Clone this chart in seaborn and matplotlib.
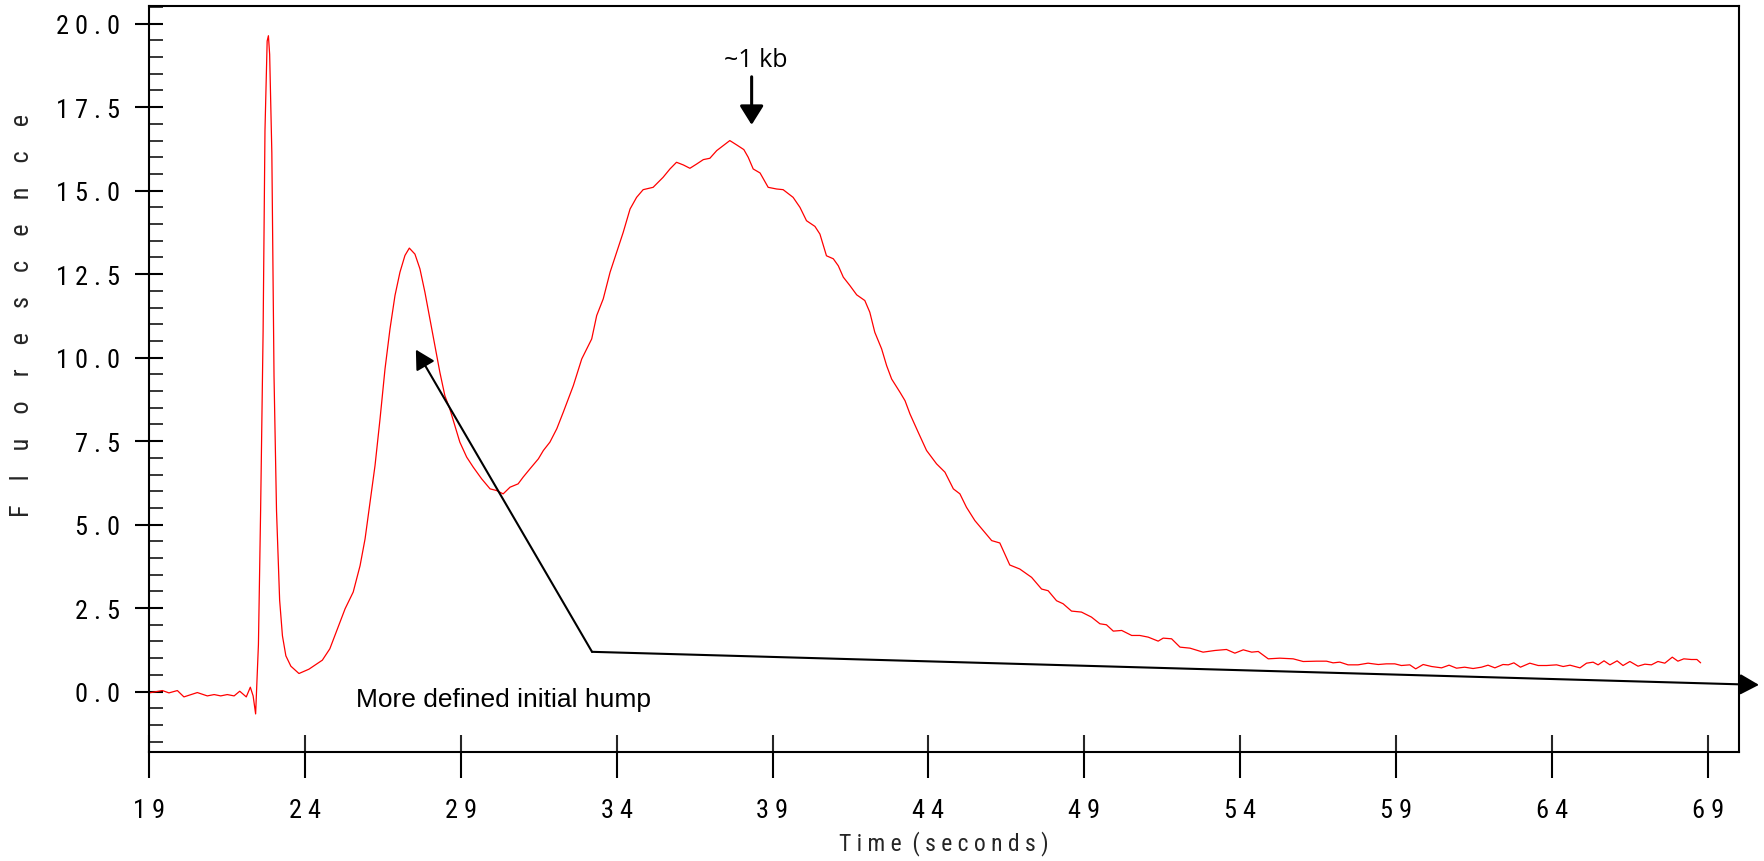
import matplotlib
matplotlib.use("Agg")
import matplotlib.pyplot as plt
import seaborn as sns
import numpy as np
import pandas as pd
from matplotlib import font_manager as fm
from matplotlib.ticker import FixedLocator, MultipleLocator

# ---------------- data ----------------
time_s = [
    19.00, 19.43, 19.64, 19.91, 20.12, 20.55, 20.87, 21.09, 21.30, 21.51,
    21.73, 21.91, 22.12, 22.25, 22.34, 22.42, 22.51, 22.58, 22.66, 22.72,
    22.79, 22.83, 22.87, 22.94, 23.01, 23.09, 23.19, 23.28, 23.39, 23.55,
    23.81, 24.13, 24.56, 24.80, 25.29, 25.55, 25.77, 25.93, 26.09, 26.25,
    26.41, 26.57, 26.73, 26.89, 27.05, 27.21, 27.35, 27.53, 27.69, 27.85,
    28.01, 28.17, 28.33, 28.49, 28.65, 28.81, 28.97, 29.19, 29.40, 29.67,
    29.94, 30.15, 30.36, 30.58, 30.84, 31.00, 31.22, 31.49, 31.65, 31.86,
    32.08, 32.29, 32.61, 32.88, 33.20, 33.36, 33.57, 33.79, 34.00, 34.21,
    34.43, 34.64, 34.85, 35.17, 35.49, 35.71, 35.92, 36.14, 36.35, 36.57,
    36.78, 36.99, 37.21, 37.42, 37.63, 37.85, 38.08, 38.22, 38.38, 38.60,
    38.86, 39.13, 39.34, 39.66, 39.88, 40.09, 40.36, 40.52, 40.73, 40.95,
    41.11, 41.27, 41.48, 41.70, 41.96, 42.12, 42.28, 42.50, 42.66, 42.82,
    43.09, 43.25, 43.41, 43.67, 43.94, 44.26, 44.53, 44.80, 45.01, 45.22,
    45.49, 45.76, 46.03, 46.29, 46.61, 46.93, 47.31, 47.63, 47.84, 48.11,
    48.32, 48.59, 48.91, 49.23, 49.50, 49.71, 49.93, 50.20, 50.52, 50.78,
    51.05, 51.37, 51.53, 51.80, 52.07, 52.39, 52.81, 53.19, 53.56, 53.83,
    54.10, 54.37, 54.58, 54.90, 55.27, 55.70, 56.02, 56.45, 56.77, 56.98,
    57.20, 57.46, 57.78, 58.10, 58.43, 58.69, 58.96, 59.17, 59.44, 59.63,
    59.87, 60.14, 60.46, 60.70, 60.94, 61.20, 61.47, 61.74, 61.95, 62.17,
    62.43, 62.60, 62.78, 62.99, 63.29, 63.56, 63.83, 64.15, 64.36, 64.58,
    64.90, 65.11, 65.32, 65.48, 65.67, 65.86, 66.09, 66.28, 66.50, 66.76,
    66.98, 67.19, 67.40, 67.62, 67.86, 68.04, 68.23, 68.47, 68.65, 68.77,
]
fluorescence = [
    -0.04, 0.03, -0.04, 0.03, -0.16, -0.03, -0.13, -0.09, -0.13, -0.09,
    -0.13, 0.01, -0.16, 0.13, -0.13, -0.67, 1.41, 5.42, 10.78, 16.80,
    19.48, 19.64, 19.08, 16.13, 9.44, 5.42, 2.74, 1.67, 1.07, 0.76,
    0.54, 0.67, 0.94, 1.28, 2.48, 2.98, 3.77, 4.57, 5.67, 6.77,
    8.16, 9.66, 10.86, 11.86, 12.56, 13.06, 13.28, 13.10, 12.66, 11.96,
    11.16, 10.36, 9.56, 8.86, 8.46, 7.96, 7.47, 7.02, 6.72, 6.37,
    6.07, 6.02, 5.92, 6.12, 6.22, 6.42, 6.67, 6.97, 7.22, 7.47,
    7.87, 8.37, 9.16, 9.96, 10.56, 11.26, 11.76, 12.56, 13.16, 13.75,
    14.45, 14.80, 15.03, 15.10, 15.40, 15.65, 15.85, 15.77, 15.67, 15.80,
    15.93, 15.97, 16.20, 16.35, 16.50, 16.37, 16.23, 16.00, 15.65, 15.53,
    15.10, 15.05, 15.03, 14.80, 14.50, 14.10, 13.93, 13.70, 13.05, 12.96,
    12.75, 12.41, 12.16, 11.88, 11.71, 11.36, 10.76, 10.26, 9.76, 9.36,
    8.96, 8.71, 8.31, 7.77, 7.22, 6.82, 6.57, 6.07, 5.92, 5.52,
    5.12, 4.82, 4.52, 4.45, 3.79, 3.67, 3.42, 3.07, 3.02, 2.72,
    2.63, 2.41, 2.38, 2.23, 2.03, 2.00, 1.81, 1.83, 1.68, 1.68,
    1.63, 1.51, 1.60, 1.58, 1.33, 1.30, 1.18, 1.23, 1.26, 1.15,
    1.25, 1.18, 1.20, 0.98, 1.00, 0.98, 0.90, 0.91, 0.91, 0.86,
    0.88, 0.80, 0.80, 0.85, 0.81, 0.83, 0.83, 0.78, 0.80, 0.68,
    0.81, 0.75, 0.71, 0.79, 0.70, 0.73, 0.69, 0.73, 0.79, 0.71,
    0.81, 0.80, 0.86, 0.73, 0.85, 0.78, 0.78, 0.80, 0.75, 0.79,
    0.71, 0.85, 0.88, 0.80, 0.92, 0.80, 0.92, 0.78, 0.90, 0.76,
    0.82, 0.80, 0.90, 0.85, 1.03, 0.91, 0.98, 0.96, 0.96, 0.86,
]
x_ticks = [19, 24, 29, 34, 39, 44, 49, 54, 59, 64, 69]
y_ticks = [0.0, 2.5, 5.0, 7.5, 10.0, 12.5, 15.0, 17.5, 20.0]
x_label = "Time (seconds)"
y_label = "Fluorescence"
peak_label = "~1 kb"
hump_label = "More defined initial hump"

# annotation anchor points (data units)
peak_arrow_start = (38.33, 18.41)
peak_arrow_end = (38.33, 16.97)
peak_text_pos = (38.47, 18.74)
hump_vertex = (33.21, 1.19)
hump_tip_up = (27.56, 10.24)
hump_tip_right = (70.64, 0.20)
hump_text_pos = (25.64, -0.43)

df = pd.DataFrame({"time": time_s, "fluor": fluorescence})

# ---------------- fonts ----------------
names = {f.name for f in fm.fontManager.ttflist}
narrow_name = None
for cand in ["Noto Sans ExtraCondensed", "Liberation Sans Narrow",
             "Noto Sans Condensed", "Roboto Condensed", "Open Sans Condensed",
             "DejaVu Sans Condensed"]:
    if cand in names:
        narrow_name = cand
        break
if narrow_name is None:
    extra = sorted(n for n in names if ("Narrow" in n or "Condensed" in n))
    if extra:
        narrow_name = extra[0]
narrow_stretch = "normal"
if narrow_name is None:
    narrow_name = "DejaVu Sans"
    narrow_stretch = "condensed"
narrow = [narrow_name, "DejaVu Sans"]

# ---------------- style ----------------
sns.set_style("ticks")
plt.rcParams["font.family"] = narrow
plt.rcParams["font.stretch"] = narrow_stretch

W, H, DPI = 1764, 862, 100
fig = plt.figure(figsize=(W / DPI, H / DPI), dpi=DPI)
L, R, T, B = 149, 1739, 7, 753
ax = fig.add_axes([L / W, 1 - B / H, (R - L) / W, (B - T) / H])

sns.lineplot(data=df, x="time", y="fluor", ax=ax, color="#ff0000",
             linewidth=0.9, sort=False, estimator=None)

ax.set_xlim(19, 70.0)
ax.set_ylim(-1.81, 20.53)

for s in ax.spines.values():
    s.set_visible(True)
    s.set_color("black")
    s.set_linewidth(1.5)

px = 72.0 / DPI  # points per pixel
spaced = lambda s: " ".join(s)
TICK_FS = 19

ax.xaxis.set_major_locator(FixedLocator(x_ticks))
ax.xaxis.set_minor_locator(FixedLocator(x_ticks))
ax.xaxis.remove_overlapping_locs = False
ax.set_xticklabels([spaced(str(v)) for v in x_ticks])
ax.tick_params(axis="x", which="major", direction="out", length=26 * px,
               width=1.5, pad=20 * px, labelsize=TICK_FS, colors="black")
ax.tick_params(axis="x", which="minor", direction="in", length=17 * px,
               width=1.5)

ax.yaxis.set_major_locator(FixedLocator(y_ticks))
ax.yaxis.set_minor_locator(MultipleLocator(0.5))
ax.set_yticklabels([spaced(f"{v:.1f}") for v in y_ticks])
ax.tick_params(axis="y", which="major", direction="inout", length=28 * px,
               width=1.5, pad=15 * px, labelsize=TICK_FS, colors="black")
ax.tick_params(axis="y", which="minor", direction="in", length=14 * px,
               width=1.3)
ax.set_xlabel("")
ax.set_ylabel("")

xl_text = "  ".join(spaced(w) for w in x_label.split(" "))
xl = fig.text((L + R) / 2 / W, 1 - 844 / H, xl_text, ha="center",
              va="center", fontsize=17)
yl = fig.text(22 / W, 1 - 315 / H, y_label, ha="center",
              va="center", rotation=90, fontsize=TICK_FS)

# choose letter spacing of the rotated y label so it spans ~375 px
renderer = fig.canvas.get_renderer()
best = None
for n in range(1, 12):
    yl.set_text((" " * n).join(y_label))
    h = yl.get_window_extent(renderer).height
    if best is None or abs(h - 375) < best[0]:
        best = (abs(h - 375), n)
yl.set_text((" " * best[1]).join(y_label))

# annotations
ms = 29
ax.annotate("", xy=peak_arrow_end, xytext=peak_arrow_start,
            arrowprops=dict(arrowstyle="-|>,head_length=0.4,head_width=0.25",
                            mutation_scale=ms, color="black", lw=2.2,
                            shrinkA=0, shrinkB=0))
ax.text(*peak_text_pos, peak_label, ha="center", va="baseline",
        fontsize=18, family=["Open Sans", "DejaVu Sans"], color="black")

for tip in (hump_tip_up, hump_tip_right):
    ax.annotate("", xy=tip, xytext=hump_vertex, annotation_clip=False,
                arrowprops=dict(arrowstyle="-|>,head_length=0.4,head_width=0.22",
                                mutation_scale=ms, color="black", lw=1.5,
                                shrinkA=0, shrinkB=0, clip_on=False))
ax.text(*hump_text_pos, hump_label, ha="left", va="baseline", fontsize=19,
        family=["Liberation Sans", "DejaVu Sans"], color="black")

fig.savefig("out.png", dpi=DPI)
